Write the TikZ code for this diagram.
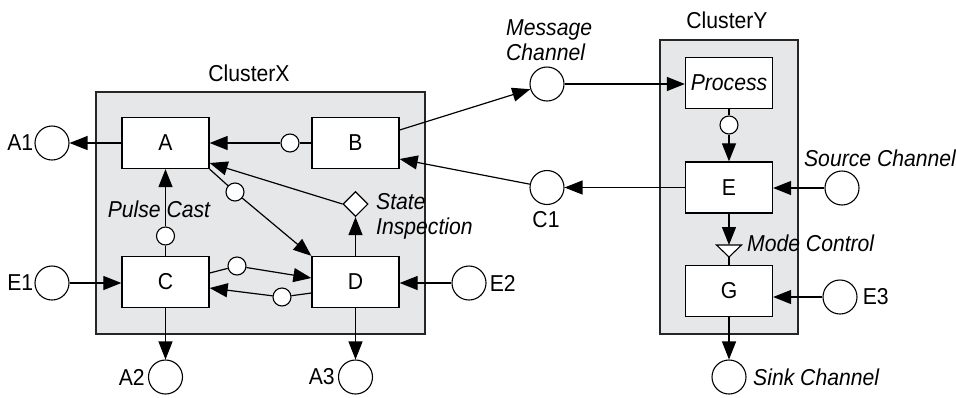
\documentclass[tikz,border=0pt]{standalone}
\usepackage{fontspec}
\setmainfont{Liberation Sans}[FakeStretch=0.92]
\usetikzlibrary{arrows.meta,shapes.geometric}
\definecolor{cgray}{RGB}{230,231,232}
\begin{document}
\begin{tikzpicture}[x=1pt,y=-1pt,
  every node/.style={font=\fontsize{23}{25}\selectfont},
  cluster/.style={draw=black!85, fill=cgray, line width=1.3pt, inner sep=0pt},
  blk/.style={draw, fill=white, line width=1.3pt, minimum width=87pt, minimum height=51pt, inner sep=0pt},
  port/.style={circle, draw, fill=white, line width=1.1pt, minimum size=34pt, inner sep=0pt},
  sm/.style={circle, draw, fill=white, line width=1.1pt, minimum size=18pt, inner sep=0pt},
  lab/.style={font=\itshape\fontsize{23}{25}\selectfont, inner sep=1pt},
  conn/.style={line width=1.2pt},
  arr/.style={conn, -{Triangle[length=18pt,width=14pt]}},
  plab/.style={inner sep=1pt}]
\useasboundingbox (0,0) rectangle (956,397);
% clusters
\node[cluster, minimum width=329pt, minimum height=242pt] (cx) at (260.5,213) {};
\node[cluster, minimum width=138pt, minimum height=294pt] (cy) at (729,187) {};
\node (cxl) at (249,73) {ClusterX};
\node (cyl) at (727,20) {ClusterY};
% blocks
\node[blk] (A) at (165.5,143) {A};
\node[blk] (B) at (355.5,143) {B};
\node[blk] (C) at (165.5,282) {C};
\node[blk] (D) at (355.5,282) {D};
\node[blk] (P) at (729,83) {\itshape Process};
\node[blk] (E) at (729,187.5) {E};
\node[blk] (G) at (729,291) {G};
% ports
\node[port, label={[plab]left:A1}] (A1) at (52,143) {};
\node[port, label={[plab]left:E1}] (E1) at (52,283) {};
\node[port, label={[plab,inner sep=3pt]right:E2}] (E2) at (469,283) {};
\node[port, label={[plab,inner sep=3pt]left:A2}] (A2) at (165.5,377) {};
\node[port, label={[plab,inner sep=3pt]left:A3}] (A3) at (355.5,377) {};
\node[port] (MC) at (547,84) {};
\node[port] (C1) at (547,187.5) {};
\node[port] (SC) at (842,188) {};
\node[port, label={[plab,inner sep=5pt]right:E3}] (E3) at (840,297) {};
\node[port] (SK) at (729,377) {};
% small circles
\node[sm] (bc) at (290,143) {};
\node[sm] (ac) at (235,192) {};
\node[sm] (pc) at (165.5,236) {};
\node[sm] (cu) at (237,266) {};
\node[sm] (cl) at (282,297) {};
\node[sm] (pe) at (729,125) {};
\node[diamond, draw, fill=white, line width=1.1pt, minimum width=25pt, minimum height=25pt, inner sep=0pt] (dm) at (355.5,204) {};
% text labels
\node[lab] (pcl) at (159,209) {Pulse Cast};
\node[lab, anchor=west, align=left] (sil) at (375,216.5) {State\\Inspection};
\node[lab, anchor=west, align=left] (mcl) at (505,40.5) {Message\\Channel};
\node (c1l) at (546,220) {C1};
\node[lab] (scl) at (880,158) {Source Channel};
\node[lab, anchor=west] (mdl) at (746,243) {Mode Control};
\node[lab, anchor=west] (skl) at (752,377) {Sink Channel};
% connectors ClusterX
\draw[arr] (A) -- (A1);
\draw[conn] (B) -- (bc);
\draw[arr] (bc) -- (A);
\draw[conn] (A.south east) -- (ac);
\draw[arr] (ac) -- (D.north west);
\draw[arr] (dm.west) -- ([yshift=-20pt]A.east);
\draw[arr] (D) -- (dm);
\draw[conn] (C) -- (pc);
\draw[arr] (pc) -- (A);
\draw[conn] ([yshift=9pt]C.east) -- (cu);
\draw[arr] (cu) -- ([yshift=4pt]D.west);
\draw[conn] ([yshift=-11pt]D.west) -- (cl);
\draw[arr] (cl) -- ([yshift=-6pt]C.east);
\draw[arr] (E1) -- (E1 -| C.west);
\draw[arr] (E2) -- (E2 -| D.east);
\draw[arr] (C) -- (A2);
\draw[arr] (D) -- (A3);
% between clusters
\draw[arr] ([yshift=13pt]B.east) -- (MC);
\draw[arr] (MC) -- (MC -| P.west);
\draw[arr] (C1) -- ([yshift=-16pt]B.east);
\draw[arr] (E) -- (C1);
% ClusterY
\draw[conn] (P) -- (pe);
\draw[arr] (pe) -- (E);
\draw[arr] (SC) -- (SC -| E.east);
\coordinate (mct) at (729,245);
\coordinate (mcb) at (729,257);
\draw[arr] (E) -- (mct);
\draw[line width=1.1pt, fill=white] (716.5,245) -- (741.5,245) -- (mcb) -- cycle;
\draw[conn] (mcb) -- (G);
\draw[arr] (E3) -- (E3 -| G.east);
\draw[arr] (G) -- (SK);
\end{tikzpicture}
\end{document}
